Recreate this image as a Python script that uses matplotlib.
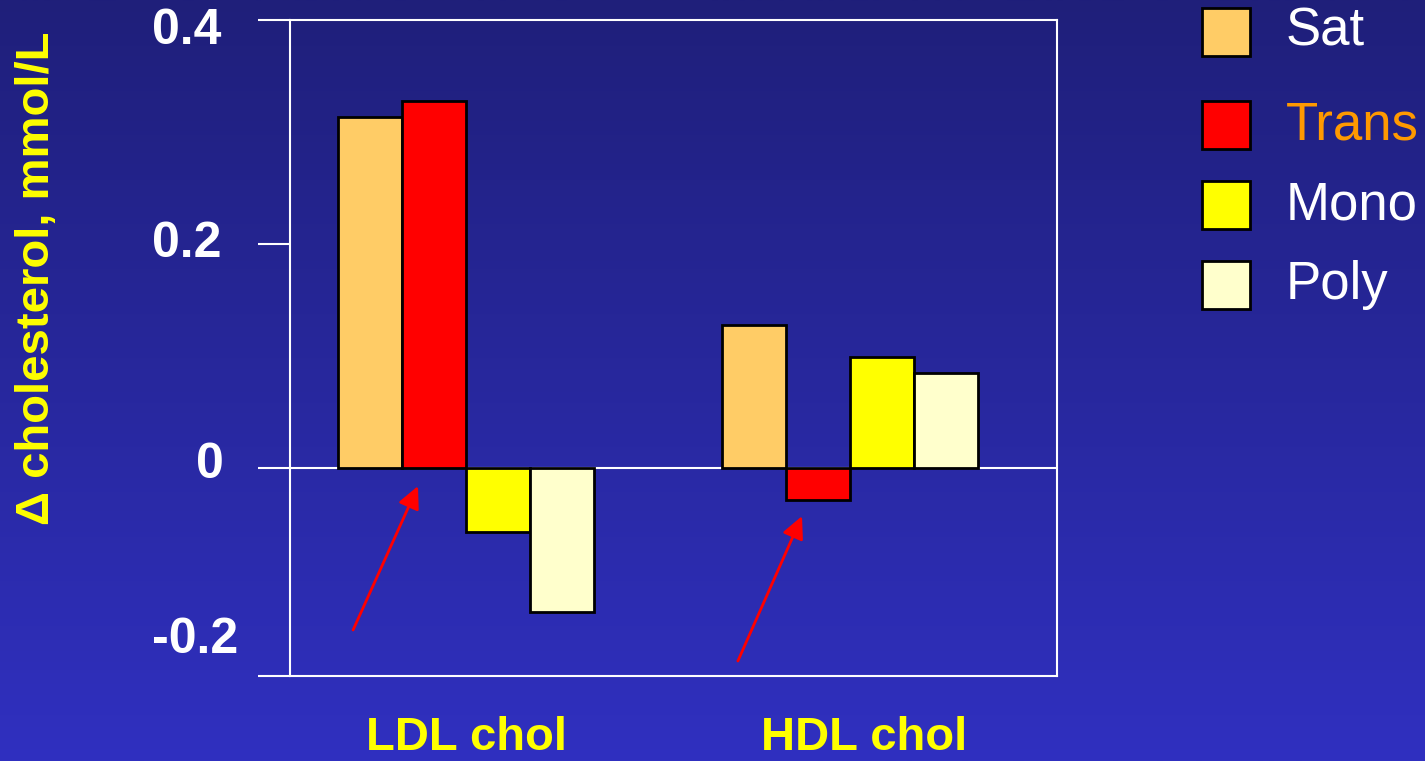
import numpy as np
import matplotlib
matplotlib.use("Agg")
import matplotlib.pyplot as plt

plt.rcParams['font.family'] = ['Liberation Sans', 'DejaVu Sans']

# Data
groups = ["LDL chol", "HDL chol"]
series = ["Sat", "Trans", "Mono", "Poly"]
sat = [0.313, 0.128]
trans = [0.328, -0.029]
mono = [-0.057, 0.099]
poly = [-0.129, 0.085]
values = [sat, trans, mono, poly]
y_ticks = [0.4, 0.2, 0.0]
y_tick_labels = ["0.4", "0.2", "0", "-0.2"]

colors = ["#FFCC66", "#FF0000", "#FFFF00", "#FFFFCC"]
legend_text_colors = ["white", "#FF9900", "white", "white"]

W, H = 1425, 761
fig = plt.figure(figsize=(W / 100, H / 100), dpi=100)

# Gradient slide background
bg = fig.add_axes([0, 0, 1, 1])
top = np.array([31, 31, 122]) / 255
bot = np.array([48, 48, 192]) / 255
t = np.linspace(0, 1, 256)[:, None]
grad = (top[None, :] * (1 - t) + bot[None, :] * t)[:, None, :]
bg.imshow(grad, aspect='auto', extent=[0, 1, 0, 1])
bg.set_axis_off()

def fx(px):
    return px / W

def fy(py):
    return 1 - py / H

ax = fig.add_axes([fx(290), fy(676), (1057 - 290) / W, (676 - 20) / H])
ax.patch.set_alpha(0)

ymin = -0.1857
ax.set_ylim(ymin, 0.4)
ax.set_xlim(-0.4583, 1.539)

ax.axhline(0, color="white", lw=1.5, zorder=1)

x = np.arange(len(groups))
bw = 64 / 384
for i, (vals, c) in enumerate(zip(values, colors)):
    ax.bar(x + (i - 1.5) * bw, vals, width=bw, color=c, edgecolor="black",
           linewidth=2, zorder=2)

for s in ax.spines.values():
    s.set_color("white")
    s.set_linewidth(1.5)

ax.set_yticks(y_ticks + [ymin])
ax.set_yticklabels([])
ax.tick_params(axis="y", direction="out", length=23, width=1.5, color="white")
ax.set_xticks(x)
ax.set_xticklabels([])
ax.tick_params(axis="x", length=0)

# Y tick labels
tick_label_pos = [(152, 31), (152, 244), (196, 465), (152, 640)]
for lab, (px, py) in zip(y_tick_labels, tick_label_pos):
    fig.text(fx(px), fy(py), lab, color="white", fontsize=36, fontweight="bold",
             ha="left", va="center")

# Category labels
for g, px in zip(groups, [467, 864]):
    fig.text(fx(px), fy(750), g, color="#FFFF00", fontsize=34,
             fontweight="bold", ha="center", va="baseline")

# Axis title
fig.text(fx(37), fy(278), "\u0394 cholesterol, mmol/L", color="#FFFF00",
         fontsize=34, fontweight="bold", rotation=90, ha="center", va="center")

# Legend
legend_rows = [32, 125, 205, 285]
for name, c, tc, py in zip(series, colors, legend_text_colors, legend_rows):
    fig.patches.append(plt.Rectangle((fx(1202), fy(py + 24)), 48 / W, 48 / H,
                                     transform=fig.transFigure, facecolor=c,
                                     edgecolor="black", linewidth=2))
    fig.text(fx(1286), fy(py), name, color=tc, fontsize=38, ha="left",
             va="center")

# Arrows pointing at the trans-fat bars
arrowprops = dict(arrowstyle="-|>,head_length=0.45,head_width=0.22",
                  color="red", lw=2, mutation_scale=30, shrinkA=0, shrinkB=0)
ax.annotate("", xy=(-0.125, -0.0161), xytext=(-0.294, -0.1446),
            arrowprops=arrowprops, zorder=3)
ax.annotate("", xy=(0.875, -0.0429), xytext=(0.708, -0.1723),
            arrowprops=arrowprops, zorder=3)

fig.savefig("out.png", dpi=100)
